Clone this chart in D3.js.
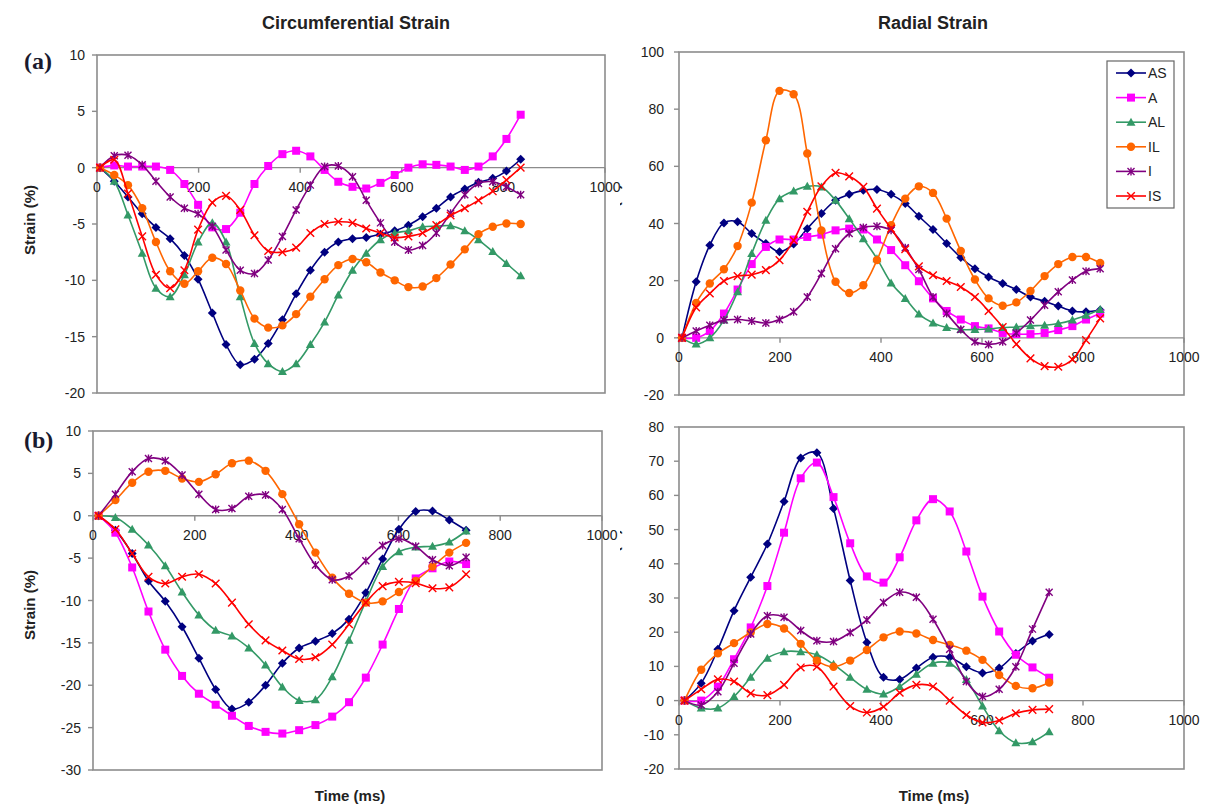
<!DOCTYPE html>
<html>
<head>
<meta charset="utf-8">
<script src="https://cdn.jsdelivr.net/npm/d3@7"></script>
<style>
  body { margin: 0; background: #fff; }
  svg { display: block; }
  text { font-family: "Liberation Sans", Arial, sans-serif; fill: #222; }
</style>
</head>
<body>
<svg id="chart" width="1211" height="806"></svg>
<script>
// sample times (ms)
var timeA = [6, 34, 61, 89, 116, 144, 172, 199, 227, 254, 282, 310, 337, 365, 392, 420,
             448, 475, 503, 530, 558, 586, 613, 641, 668, 696, 724, 751, 779, 806, 834];
var timeB = [11, 44, 77, 109, 142, 175, 208, 241, 273, 306, 339, 372, 405, 437, 470, 503,
             536, 569, 601, 634, 667, 700, 733];

var segments = ["AS", "A", "AL", "IL", "I", "IS"];

// (a) circumferential strain
var circA_AS = [0, -1.2, -2.6, -4.1, -5.3, -6.3, -7.8, -9.9, -12.9, -15.7, -17.5, -17.0, -15.6, -13.5, -11.2, -9.1, -7.5, -6.6, -6.3, -6.2, -5.9, -5.6, -5.1, -4.35, -3.6, -2.6, -1.9, -1.3, -0.95, -0.3, 0.75];
var circA_A  = [0, 0.2, 0.1, 0.1, 0.1, -0.2, -1.45, -3.3, -5.3, -5.45, -4.0, -1.45, 0.15, 1.2, 1.5, 1.0, -0.2, -1.25, -1.7, -1.85, -1.35, -0.65, 0, 0.3, 0.25, 0.1, -0.2, 0.1, 1.0, 2.55, 4.7];
var circA_AL = [0, -1.2, -4.2, -7.6, -10.7, -11.45, -9.5, -6.6, -4.9, -6.6, -11.45, -15.6, -17.4, -18.1, -17.4, -15.7, -13.7, -11.3, -9.1, -7.6, -6.4, -5.8, -5.6, -5.25, -5.2, -5.15, -5.6, -6.4, -7.45, -8.5, -9.6];
var circA_IL = [0, -0.65, -1.55, -3.6, -6.6, -9.2, -10.3, -9.2, -8.0, -8.55, -10.9, -13.4, -14.2, -14.0, -13.0, -11.45, -9.9, -8.65, -8.1, -8.4, -9.3, -10.0, -10.6, -10.55, -9.8, -8.6, -7.25, -5.9, -5.25, -4.95, -5.0];
var circA_I  = [0, 1.05, 1.1, 0.25, -1.2, -2.6, -3.6, -4.1, -5.2, -7.3, -9.1, -9.4, -8.2, -6.1, -3.75, -1.55, 0.1, 0.15, -0.8, -2.9, -4.9, -6.6, -7.3, -6.9, -5.8, -4.05, -2.4, -1.4, -1.25, -1.7, -2.4];
var circA_IS = [0, 0.7, -2.3, -6.1, -9.5, -10.7, -9.1, -5.5, -3.1, -2.5, -3.75, -6.0, -7.4, -7.5, -7.1, -5.8, -5.0, -4.8, -4.9, -5.4, -5.8, -6.2, -6.1, -5.8, -5.1, -4.25, -3.6, -2.9, -2.1, -1.1, 0];

// (a) radial strain
var radA_AS = [0, 19.6, 32.4, 40.2, 40.6, 36.5, 33, 30.1, 32.8, 38.2, 43.5, 48.1, 50.2, 51.6, 51.9, 50.2, 47.0, 42.5, 37.9, 33, 28.1, 24.2, 21.3, 19, 16.9, 14.3, 12.8, 11.1, 9.4, 9.1, 9.7];
var radA_A  = [0, 0, 2.4, 8.5, 16.9, 25.8, 31.8, 34.4, 34.4, 35.3, 36.1, 37.6, 38.2, 37.9, 34.4, 30.7, 25.4, 19.8, 13.8, 9.4, 6.4, 4.1, 3.3, 1.7, 1.3, 1.3, 1.7, 2.7, 4.1, 6.4, 8.5];
var radA_AL = [0, -2.2, 0, 6.2, 16.1, 29.5, 41.1, 48.7, 51.4, 53, 52.8, 48.1, 41.7, 34.7, 27.7, 19.2, 13.8, 8.3, 5.2, 3.6, 2.9, 2.9, 3.1, 3.6, 3.8, 4.2, 4.4, 5.0, 6.2, 7.9, 9.9];
var radA_IL = [0, 12.2, 19.0, 24.0, 32.1, 47.3, 69.1, 86.4, 85.2, 64.5, 37.6, 19.6, 15.7, 18.4, 27.2, 39.4, 48.7, 53.0, 50.7, 41.7, 30.4, 20.4, 13.8, 11.2, 12.4, 16.4, 21.6, 25.8, 28.3, 28.3, 26.2];
var radA_I  = [0, 2.4, 4.4, 6.2, 6.4, 5.9, 5.2, 6.4, 9.1, 14.3, 22.5, 31.2, 36.5, 38.6, 39.0, 37.6, 31.5, 23.9, 14.3, 8.5, 2.9, -1.4, -2.3, -1.4, 1.7, 6.2, 11.4, 16.1, 20.2, 23.3, 24.2];
var radA_IS = [0, 10.6, 15.5, 19.9, 21.6, 22.1, 23.7, 27.2, 34.1, 44.1, 53.0, 57.7, 56.5, 52.8, 45.2, 38.2, 31.0, 25.0, 21.9, 19.9, 17.8, 14.3, 9.4, 3.8, -2.2, -7.2, -9.9, -10.1, -7.6, -0.8, 6.8];

// (b) circumferential strain
var circB_AS = [0, -1.7, -4.45, -7.7, -10.1, -13.1, -16.8, -20.5, -22.8, -22.0, -20.0, -17.4, -15.6, -14.8, -13.9, -12.2, -9.1, -5.1, -1.6, 0.5, 0.55, -0.5, -1.7];
var circB_A  = [0, -2.0, -6.1, -11.3, -15.8, -18.9, -21.0, -22.3, -23.6, -24.8, -25.5, -25.7, -25.3, -24.7, -23.7, -22.0, -19.1, -15.2, -11.0, -7.4, -6.2, -5.4, -5.7];
var circB_AL = [0, -0.2, -1.6, -3.45, -5.9, -9.0, -11.7, -13.5, -14.2, -15.6, -17.6, -20.2, -21.8, -21.7, -19.0, -14.7, -10.1, -6.0, -4.25, -3.7, -3.6, -3.1, -1.8];
var circB_IL = [0, 1.85, 3.9, 5.2, 5.3, 4.4, 4.0, 4.9, 6.2, 6.5, 5.3, 2.55, -1.0, -4.35, -7.3, -9.2, -10.25, -10.1, -9.0, -7.7, -6.0, -4.35, -3.2];
var circB_I  = [0, 2.55, 5.2, 6.75, 6.5, 4.8, 2.55, 0.75, 0.85, 2.3, 2.45, 0.75, -2.7, -5.8, -7.55, -7.1, -5.3, -3.5, -2.7, -3.6, -5.2, -5.9, -4.9];
var circB_IS = [0, -1.6, -4.45, -7.2, -8.0, -7.2, -6.9, -8.0, -10.25, -12.8, -14.7, -15.9, -16.9, -16.7, -15.2, -12.8, -10.25, -8.3, -7.8, -7.95, -8.55, -8.45, -6.9];

// (b) radial strain
var radB_AS = [0, 5.1, 15.0, 26.3, 36.1, 45.8, 58.2, 70.9, 72.5, 56.2, 35.1, 17.0, 6.8, 6.2, 9.5, 12.7, 12.7, 9.9, 8.1, 9.5, 13.8, 17.4, 19.3];
var radB_A  = [0, 0, 4.1, 12.1, 21.4, 33.5, 49.1, 65.0, 69.6, 59.5, 46.0, 36.3, 34.5, 41.9, 52.7, 58.9, 55.3, 43.6, 30.4, 20.2, 13.4, 9.7, 6.7];
var radB_AL = [0, -2.2, -2.2, 1.2, 6.8, 12.4, 14.3, 14.3, 13.4, 10.6, 6.8, 3.3, 1.9, 4.1, 7.7, 10.9, 10.9, 6.2, -1.6, -8.8, -12.3, -12.0, -9.1];
var radB_IL = [0, 9.0, 13.8, 16.8, 19.9, 22.4, 21.1, 16.6, 11.7, 9.9, 11.7, 14.8, 18.5, 20.2, 19.6, 17.7, 16.3, 14.6, 11.9, 7.5, 4.3, 3.6, 5.3];
var radB_I  = [0, -1.3, 2.6, 10.9, 19.5, 24.8, 24.4, 20.5, 17.5, 17.3, 19.9, 23.6, 28.7, 31.7, 30.2, 23.8, 15.0, 5.6, 1.2, 3.3, 9.9, 20.9, 31.7];
var radB_IS = [0, 3.3, 6.2, 5.6, 2.1, 1.6, 4.6, 9.7, 9.9, 4.1, -1.6, -3.5, -1.8, 2.3, 4.6, 4.1, 0, -4.2, -6.4, -5.8, -3.7, -2.7, -2.5];

var xTicks = [0, 200, 400, 600, 800, 1000];

var colors = {AS: "#000080", A: "#FF00FF", AL: "#339966", IL: "#FF6600", I: "#800080", IS: "#FF0000"};

var svg = d3.select("#chart");

// marker shapes, Excel style
function marker(g, name) {
    var c = colors[name];
    if (name == "AS") g.append("path").attr("d", "M0,-4.5L4.5,0L0,4.5L-4.5,0Z").attr("fill", c);
    else if (name == "A") g.append("rect").attr("x", -4).attr("y", -4).attr("width", 8).attr("height", 8).attr("fill", c);
    else if (name == "AL") g.append("path").attr("d", "M0,-4.5L4.5,3.5L-4.5,3.5Z").attr("fill", c);
    else if (name == "IL") g.append("circle").attr("r", 4.2).attr("fill", c);
    else if (name == "I") g.append("path").attr("d", "M-3.5,-3.5L3.5,3.5M-3.5,3.5L3.5,-3.5M0,-4L0,4")
        .attr("stroke", c).attr("stroke-width", 1.4).attr("fill", "none");
    else g.append("path").attr("d", "M-3.8,-3.8L3.8,3.8M-3.8,3.8L3.8,-3.8")
        .attr("stroke", c).attr("stroke-width", 1.4).attr("fill", "none");
}

function drawPanel(p) {
    var x = d3.scaleLinear().domain([0, 1000]).range([p.x0, p.x1]);
    var y = d3.scaleLinear().domain(p.yDomain).range([p.y1, p.y0]);
    var g = svg.append("g");

    // frame
    g.append("rect").attr("x", p.x0).attr("y", p.y0)
        .attr("width", p.x1 - p.x0).attr("height", p.y1 - p.y0)
        .attr("fill", "none").attr("stroke", "#8c8c8c").attr("stroke-width", 1.6);

    // y axis ticks and labels
    g.selectAll(".yt").data(p.yTicks).enter().append("line")
        .attr("x1", p.x0 - 5).attr("x2", p.x0)
        .attr("y1", function(d) { return y(d); }).attr("y2", function(d) { return y(d); })
        .attr("stroke", "#8c8c8c").attr("stroke-width", 1.4);
    g.selectAll(".yl").data(p.yTicks).enter().append("text")
        .attr("x", p.x0 - p.labelGap).attr("y", function(d) { return y(d) + 5; })
        .attr("text-anchor", "end").style("font-size", "14px")
        .text(function(d) { return d; });

    // zero line used as the x axis
    var y0 = y(0);
    g.append("line").attr("x1", p.x0).attr("x2", p.x1).attr("y1", y0).attr("y2", y0)
        .attr("stroke", "#8c8c8c").attr("stroke-width", 1.4);
    g.selectAll(".xt").data(xTicks).enter().append("line")
        .attr("x1", function(d) { return x(d); }).attr("x2", function(d) { return x(d); })
        .attr("y1", y0).attr("y2", y0 + 5)
        .attr("stroke", "#8c8c8c").attr("stroke-width", 1.4);
    g.selectAll(".xl").data(xTicks).enter().append("text")
        .attr("x", function(d) { return x(d); }).attr("y", y0 + 24)
        .attr("text-anchor", "middle").style("font-size", "14px")
        .text(function(d) { return d; });

    var line = d3.line()
        .x(function(d) { return x(d[0]); })
        .y(function(d) { return y(d[1]); })
        .curve(d3.curveCatmullRom.alpha(0.5));

    segments.forEach(function(name, k) {
        var pts = p.values[k].map(function(v, i) { return [p.times[i], v]; });
        g.append("path").datum(pts).attr("d", line)
            .attr("fill", "none").attr("stroke", colors[name]).attr("stroke-width", 1.6);
        pts.forEach(function(d) {
            var m = g.append("g").attr("transform", "translate(" + x(d[0]) + "," + y(d[1]) + ")");
            marker(m, name);
        });
    });
}

var panels = [
    {x0: 97, x1: 605, y0: 55, y1: 393, yDomain: [-20, 10], yTicks: [10, 5, 0, -5, -10, -15, -20], labelGap: 12,
     times: timeA, values: [circA_AS, circA_A, circA_AL, circA_IL, circA_I, circA_IS]},
    {x0: 679, x1: 1184, y0: 52, y1: 395, yDomain: [-20, 100], yTicks: [100, 80, 60, 40, 20, 0, -20], labelGap: 15,
     times: timeA, values: [radA_AS, radA_A, radA_AL, radA_IL, radA_I, radA_IS]},
    {x0: 93, x1: 602, y0: 431, y1: 770, yDomain: [-30, 10], yTicks: [10, 5, 0, -5, -10, -15, -20, -25, -30], labelGap: 12,
     times: timeB, values: [circB_AS, circB_A, circB_AL, circB_IL, circB_I, circB_IS]},
    {x0: 679, x1: 1184, y0: 427, y1: 769, yDomain: [-20, 80], yTicks: [80, 70, 60, 50, 40, 30, 20, 10, 0, -10, -20], labelGap: 15,
     times: timeB, values: [radB_AS, radB_A, radB_AL, radB_IL, radB_I, radB_IS]}
];
panels.forEach(drawPanel);

// column titles
svg.append("text").attr("x", 356).attr("y", 29).attr("text-anchor", "middle")
    .style("font-size", "18px").style("font-weight", "bold").text("Circumferential Strain");
svg.append("text").attr("x", 933).attr("y", 29).attr("text-anchor", "middle")
    .style("font-size", "18px").style("font-weight", "bold").text("Radial Strain");

// row tags
svg.append("text").attr("x", 24).attr("y", 69).style("font-family", "'Liberation Serif', serif")
    .style("font-size", "24px").style("font-weight", "bold").style("fill", "#1a1a2e").text("(a)");
svg.append("text").attr("x", 24).attr("y", 448).style("font-family", "'Liberation Serif', serif")
    .style("font-size", "24px").style("font-weight", "bold").style("fill", "#1a1a2e").text("(b)");

// y axis titles (right column ones are cut by the figure edge)
svg.append("clipPath").attr("id", "cutRight").append("rect")
    .attr("x", 620).attr("y", 0).attr("width", 600).attr("height", 806);
[[35, 220, null], [35, 605, null], [618.5, 219, "url(#cutRight)"], [618.5, 564, "url(#cutRight)"]].forEach(function(a) {
    var t = svg.append("g");
    if (a[2]) t.attr("clip-path", a[2]);
    t.append("text").attr("transform", "translate(" + a[0] + "," + a[1] + ") rotate(-90)")
        .attr("text-anchor", "middle").style("font-size", "15px").style("font-weight", "bold")
        .text("Strain (%)");
});

// x axis titles
svg.append("text").attr("x", 350).attr("y", 801).attr("text-anchor", "middle")
    .style("font-size", "15px").style("font-weight", "bold").text("Time (ms)");
svg.append("text").attr("x", 934).attr("y", 801).attr("text-anchor", "middle")
    .style("font-size", "15px").style("font-weight", "bold").text("Time (ms)");

// legend
var lg = svg.append("g");
lg.append("rect").attr("x", 1107).attr("y", 61).attr("width", 67).attr("height", 147)
    .attr("fill", "#fff").attr("stroke", "#666").attr("stroke-width", 1.2);
segments.forEach(function(name, i) {
    var ly = 73 + i * 24.6;
    lg.append("line").attr("x1", 1116).attr("x2", 1146).attr("y1", ly).attr("y2", ly)
        .attr("stroke", colors[name]).attr("stroke-width", 1.6);
    marker(lg.append("g").attr("transform", "translate(1131," + ly + ")"), name);
    lg.append("text").attr("x", 1148).attr("y", ly + 5).style("font-size", "14px").text(name);
});
</script>
</body>
</html>
